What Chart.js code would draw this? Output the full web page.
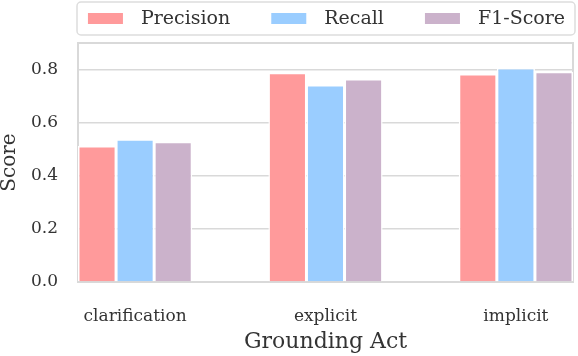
<!DOCTYPE html>
<html>
<head>
<meta charset="utf-8">
<script src="https://cdn.jsdelivr.net/npm/chart.js@4.4.1/dist/chart.umd.min.js"></script>
<style>
  html, body { margin: 0; padding: 0; background: #fff; }
  #wrap { width: 578px; height: 356px; }
</style>
</head>
<body>
<div id="wrap"><canvas id="myChart"></canvas></div>
<script>
  const categories = ['clarification', 'explicit', 'implicit'];
  const precision = [0.512, 0.788, 0.783];
  const recall = [0.538, 0.742, 0.806];
  const f1Score = [0.528, 0.764, 0.792];
  const yTicks = [0, 0.2, 0.4, 0.6, 0.8];

  const serif = "'DejaVu Serif', serif";
  const textColor = '#333333';
  const lineGray = '#d9d9d9';

  const toPoints = vals => vals.map((v, i) => ({ x: i, y: v }));

  // legend box in the style of matplotlib (frame + wide swatches)
  const boxLegend = {
    id: 'boxLegend',
    afterDraw(chart) {
      const ctx = chart.ctx;
      const area = chart.chartArea;
      ctx.save();
      ctx.beginPath();
      ctx.roundRect(area.left - 1, 2, area.right - area.left + 3, 33, 4);
      ctx.fillStyle = '#ffffff';
      ctx.fill();
      ctx.lineWidth = 1.5;
      ctx.strokeStyle = '#dddddd';
      ctx.stroke();

      ctx.font = '19px ' + serif;
      ctx.textBaseline = 'middle';
      const sw = 35, gapText = 18, gapItem = 41;
      const items = chart.data.datasets.map(ds => ({
        label: ds.label, color: ds.backgroundColor, w: ctx.measureText(ds.label).width
      }));
      let total = items.reduce((s, it) => s + sw + gapText + it.w, 0) + gapItem * (items.length - 1);
      let x = (area.left + area.right) / 2 - total / 2 + 1;
      items.forEach(it => {
        ctx.fillStyle = it.color;
        ctx.fillRect(x, 13, sw, 11);
        ctx.fillStyle = textColor;
        ctx.fillText(it.label, x + sw + gapText, 19);
        x += sw + gapText + it.w + gapItem;
      });
      ctx.restore();
    }
  };

  // grey frame around the plot area
  const plotFrame = {
    id: 'plotFrame',
    beforeDatasetsDraw(chart) {
      const { ctx, chartArea: a } = chart;
      ctx.save();
      ctx.strokeStyle = lineGray;
      ctx.lineWidth = 2;
      ctx.strokeRect(a.left, a.top, a.right - a.left, a.bottom - a.top);
      ctx.restore();
    }
  };

  const ctx = document.getElementById('myChart');

  new Chart(ctx, {
    type: 'bar',
    data: {
      datasets: [
        { label: 'Precision', data: toPoints(precision), backgroundColor: '#ff9a9b' },
        { label: 'Recall', data: toPoints(recall), backgroundColor: '#9acdff' },
        { label: 'F1-Score', data: toPoints(f1Score), backgroundColor: '#cbb2cb' }
      ]
    },
    options: {
      responsive: true,
      maintainAspectRatio: false,
      animation: false,
      categoryPercentage: 0.6,
      barPercentage: 1,
      borderColor: '#ffffff',
      borderWidth: 1.5,
      layout: { padding: { top: 43, right: 5, left: 0, bottom: 0 } },
      plugins: {
        legend: { display: false },
        tooltip: { enabled: false }
      },
      scales: {
        x: {
          type: 'linear',
          offset: false,
          min: -0.3,
          max: 2.3,
          afterBuildTicks: axis => { axis.ticks = categories.map((c, i) => ({ value: i })); },
          afterFit: axis => { axis.height = 74; },
          grid: { display: false },
          border: { display: false },
          ticks: {
            padding: 16,
            color: textColor,
            font: { family: serif, size: 17 },
            callback: v => categories[v]
          },
          title: {
            display: true,
            text: 'Grounding Act',
            color: textColor,
            font: { family: serif, size: 22 },
            padding: { top: 0, bottom: 1 }
          }
        },
        y: {
          min: 0,
          max: 0.9,
          afterBuildTicks: axis => { axis.ticks = yTicks.map(v => ({ value: v })); },
          afterFit: axis => { axis.width = 78; },
          grid: { color: lineGray, lineWidth: 1.5, drawTicks: false },
          border: { display: false },
          ticks: {
            padding: 20,
            color: textColor,
            font: { family: serif, size: 17 },
            callback: v => v.toFixed(1)
          },
          title: {
            display: true,
            text: 'Score',
            color: textColor,
            font: { family: serif, size: 20, lineHeight: 1 },
            padding: 0
          }
        }
      }
    },
    plugins: [plotFrame, boxLegend]
  });
</script>
</body>
</html>
